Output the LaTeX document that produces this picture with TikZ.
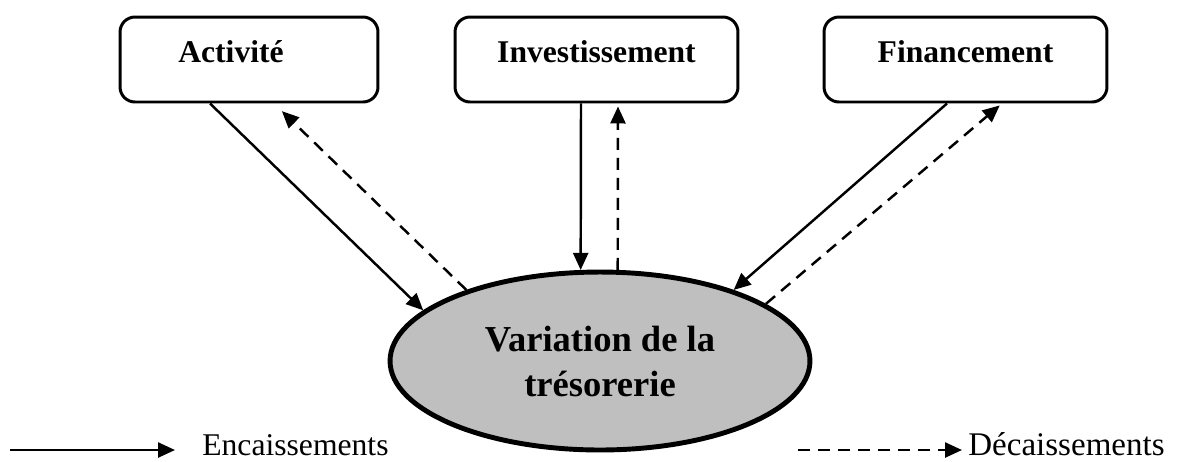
\documentclass[tikz,border=0pt]{standalone}
\usepackage{fontspec}
\setmainfont{Liberation Serif}
\usetikzlibrary{shapes.geometric, arrows.meta, positioning}

\begin{document}
\begin{tikzpicture}[x=0.02cm, y=-0.02cm, >={Triangle[length=0.34cm,width=0.3cm]},
    flux/.style={draw, rectangle, rounded corners=0.3cm, line width=1.7pt, minimum width=5.66cm, minimum height=1.7cm, text depth=0.3cm, font=\fontsize{18}{22}\selectfont\bfseries},
    enc/.style={->, line width=1.4pt},
    dec/.style={->, line width=1.4pt, dash pattern=on 0.24cm off 0.16cm}]
    \useasboundingbox (0,0) rectangle (1182,461);

    \node (activite) [flux, minimum width=5.16cm] at (249,59.5) {\hspace*{-0.72cm}Activité};
    \node (investissement) [flux] at (596.5,59.5) {Investissement};
    \node (financement) [flux] at (965.5,59.5) {Financement};
    \node (tresorerie) [draw, ellipse, fill=gray!50, line width=2.8pt, minimum width=8.4cm, minimum height=3.56cm, inner sep=0pt, align=center, font=\fontsize{20.8}{25.6}\selectfont\bfseries] at (600,361) {Variation de la\\trésorerie};

    \draw[enc] ([xshift=-0.78cm]activite.south) -- (tresorerie.164);
    \draw[dec, shorten >=0.22cm] (tresorerie.152) -- ([xshift=0.5cm]activite.south);
    \draw[enc] ([xshift=-0.31cm]investissement.south) -- (tresorerie.102);
    \draw[dec, shorten >=0.06cm] (tresorerie.79) -- ([xshift=0.43cm]investissement.south);
    \draw[enc] ([xshift=-0.37cm]financement.south) -- (tresorerie.28);
    \draw[dec, shorten >=0.06cm] (tresorerie.19) -- ([xshift=0.73cm]financement.south);

    % legende
    \coordinate (encdebut) at (10,450);
    \node (encaissements) [anchor=base west, inner sep=0pt, font=\fontsize{18}{22}\selectfont] at (202,455) {Encaissements};
    \draw[enc, shorten >=0.54cm] (encdebut) -- (encdebut -| encaissements.west);
    \coordinate (decdebut) at (798,450);
    \node (decaissements) [anchor=base west, inner sep=0pt, font=\fontsize{18.8}{22}\selectfont] at (968,455) {Décaissements};
    \draw[dec, shorten >=0.12cm] (decdebut) -- (decdebut -| decaissements.west);
\end{tikzpicture}
\end{document}
